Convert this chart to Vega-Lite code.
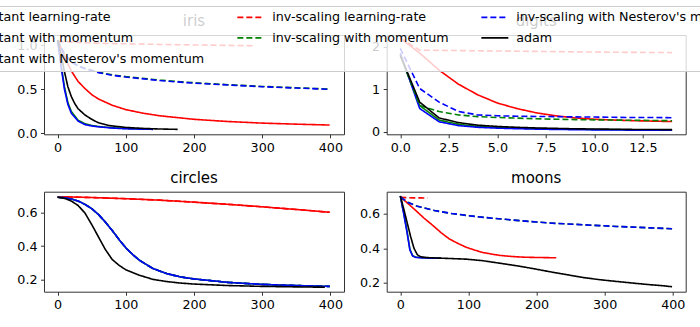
{
"$schema": "https://vega.github.io/schema/vega-lite/v6.json",
"autosize": {"type": "none"},
"padding": {"left": 44, "top": 35, "right": 656, "bottom": 292},
"config": {
  "font": "DejaVu Sans",
  "view": {"stroke": "#333", "strokeWidth": 1},
  "axis": {"domain": false, "grid": false, "labelFont": "DejaVu Sans", "labelFontSize": 12.7, "labelColor": "#000", "tickColor": "#333", "tickSize": 3.5, "tickWidth": 1, "labelPadding": 3.5, "labelFlush": false, "labelOverlap": false, "title": null},
  "title": {"fontSize": 15, "fontWeight": "normal", "font": "DejaVu Sans", "color": "#000", "offset": 6, "anchor": "middle"},
  "legend": {"orient": "none", "direction": "horizontal", "legendX": -114.5, "legendY": -29, "columns": 3, "symbolType": "M-2.7,0H2.7", "symbolSize": 100, "symbolOffset": 7.5, "symbolStrokeWidth": 1.6, "labelOffset": 15, "labelFontSize": 12.7, "labelFont": "DejaVu Sans", "labelColor": "#000", "labelLimit": 400, "rowPadding": 7, "columnPadding": 29, "padding": 4.5, "fillColor": "rgba(255,255,255,0.8)", "strokeColor": "#cccccc", "cornerRadius": 2.5, "gridAlign": "each"}
},
"datasets": {"loss": [
{"d":"iris","m":"constant learning-rate","x":0,"y":1.06},{"d":"iris","m":"constant learning-rate","x":5,"y":0.97},{"d":"iris","m":"constant learning-rate","x":10,"y":0.88},{"d":"iris","m":"constant learning-rate","x":15,"y":0.79},{"d":"iris","m":"constant learning-rate","x":20,"y":0.71},{"d":"iris","m":"constant learning-rate","x":30,"y":0.59},{"d":"iris","m":"constant learning-rate","x":40,"y":0.51},{"d":"iris","m":"constant learning-rate","x":50,"y":0.44},{"d":"iris","m":"constant learning-rate","x":60,"y":0.39},{"d":"iris","m":"constant learning-rate","x":80,"y":0.32},{"d":"iris","m":"constant learning-rate","x":100,"y":0.27},{"d":"iris","m":"constant learning-rate","x":125,"y":0.23},{"d":"iris","m":"constant learning-rate","x":150,"y":0.2},{"d":"iris","m":"constant learning-rate","x":175,"y":0.18},{"d":"iris","m":"constant learning-rate","x":200,"y":0.16},{"d":"iris","m":"constant learning-rate","x":250,"y":0.135},{"d":"iris","m":"constant learning-rate","x":300,"y":0.117},{"d":"iris","m":"constant learning-rate","x":350,"y":0.105},{"d":"iris","m":"constant learning-rate","x":399,"y":0.095},
{"d":"iris","m":"constant with momentum","x":0,"y":1.06},{"d":"iris","m":"constant with momentum","x":5,"y":0.78},{"d":"iris","m":"constant with momentum","x":10,"y":0.53},{"d":"iris","m":"constant with momentum","x":15,"y":0.35},{"d":"iris","m":"constant with momentum","x":20,"y":0.25},{"d":"iris","m":"constant with momentum","x":30,"y":0.15},{"d":"iris","m":"constant with momentum","x":40,"y":0.11},{"d":"iris","m":"constant with momentum","x":50,"y":0.09},{"d":"iris","m":"constant with momentum","x":60,"y":0.078},{"d":"iris","m":"constant with momentum","x":80,"y":0.064},{"d":"iris","m":"constant with momentum","x":100,"y":0.056},{"d":"iris","m":"constant with momentum","x":120,"y":0.051},{"d":"iris","m":"constant with momentum","x":140,"y":0.048},
{"d":"iris","m":"constant with Nesterov's momentum","x":0,"y":1.06},{"d":"iris","m":"constant with Nesterov's momentum","x":5,"y":0.76},{"d":"iris","m":"constant with Nesterov's momentum","x":10,"y":0.5},{"d":"iris","m":"constant with Nesterov's momentum","x":15,"y":0.33},{"d":"iris","m":"constant with Nesterov's momentum","x":20,"y":0.23},{"d":"iris","m":"constant with Nesterov's momentum","x":30,"y":0.14},{"d":"iris","m":"constant with Nesterov's momentum","x":40,"y":0.1},{"d":"iris","m":"constant with Nesterov's momentum","x":50,"y":0.085},{"d":"iris","m":"constant with Nesterov's momentum","x":60,"y":0.075},{"d":"iris","m":"constant with Nesterov's momentum","x":80,"y":0.061},{"d":"iris","m":"constant with Nesterov's momentum","x":100,"y":0.053},{"d":"iris","m":"constant with Nesterov's momentum","x":120,"y":0.049},{"d":"iris","m":"constant with Nesterov's momentum","x":140,"y":0.046},
{"d":"iris","m":"inv-scaling learning-rate","x":0,"y":1.045},{"d":"iris","m":"inv-scaling learning-rate","x":50,"y":1.025},{"d":"iris","m":"inv-scaling learning-rate","x":100,"y":1.017},{"d":"iris","m":"inv-scaling learning-rate","x":150,"y":1.01},{"d":"iris","m":"inv-scaling learning-rate","x":200,"y":1.004},{"d":"iris","m":"inv-scaling learning-rate","x":250,"y":0.999},{"d":"iris","m":"inv-scaling learning-rate","x":287,"y":0.995},
{"d":"iris","m":"inv-scaling with momentum","x":0,"y":1.06},{"d":"iris","m":"inv-scaling with momentum","x":5,"y":0.975},{"d":"iris","m":"inv-scaling with momentum","x":10,"y":0.905},{"d":"iris","m":"inv-scaling with momentum","x":20,"y":0.815},{"d":"iris","m":"inv-scaling with momentum","x":30,"y":0.77},{"d":"iris","m":"inv-scaling with momentum","x":40,"y":0.74},{"d":"iris","m":"inv-scaling with momentum","x":60,"y":0.695},{"d":"iris","m":"inv-scaling with momentum","x":80,"y":0.665},{"d":"iris","m":"inv-scaling with momentum","x":100,"y":0.645},{"d":"iris","m":"inv-scaling with momentum","x":150,"y":0.605},{"d":"iris","m":"inv-scaling with momentum","x":200,"y":0.575},{"d":"iris","m":"inv-scaling with momentum","x":250,"y":0.553},{"d":"iris","m":"inv-scaling with momentum","x":300,"y":0.533},{"d":"iris","m":"inv-scaling with momentum","x":350,"y":0.518},{"d":"iris","m":"inv-scaling with momentum","x":399,"y":0.503},
{"d":"iris","m":"inv-scaling with Nesterov's momentum","x":0,"y":1.06},{"d":"iris","m":"inv-scaling with Nesterov's momentum","x":5,"y":0.97},{"d":"iris","m":"inv-scaling with Nesterov's momentum","x":10,"y":0.9},{"d":"iris","m":"inv-scaling with Nesterov's momentum","x":20,"y":0.81},{"d":"iris","m":"inv-scaling with Nesterov's momentum","x":30,"y":0.765},{"d":"iris","m":"inv-scaling with Nesterov's momentum","x":40,"y":0.735},{"d":"iris","m":"inv-scaling with Nesterov's momentum","x":60,"y":0.69},{"d":"iris","m":"inv-scaling with Nesterov's momentum","x":80,"y":0.66},{"d":"iris","m":"inv-scaling with Nesterov's momentum","x":100,"y":0.64},{"d":"iris","m":"inv-scaling with Nesterov's momentum","x":150,"y":0.6},{"d":"iris","m":"inv-scaling with Nesterov's momentum","x":200,"y":0.57},{"d":"iris","m":"inv-scaling with Nesterov's momentum","x":250,"y":0.55},{"d":"iris","m":"inv-scaling with Nesterov's momentum","x":300,"y":0.53},{"d":"iris","m":"inv-scaling with Nesterov's momentum","x":350,"y":0.515},{"d":"iris","m":"inv-scaling with Nesterov's momentum","x":399,"y":0.5},
{"d":"iris","m":"adam","x":0,"y":1.06},{"d":"iris","m":"adam","x":5,"y":0.9},{"d":"iris","m":"adam","x":10,"y":0.7},{"d":"iris","m":"adam","x":15,"y":0.53},{"d":"iris","m":"adam","x":20,"y":0.42},{"d":"iris","m":"adam","x":25,"y":0.34},{"d":"iris","m":"adam","x":30,"y":0.28},{"d":"iris","m":"adam","x":40,"y":0.21},{"d":"iris","m":"adam","x":50,"y":0.16},{"d":"iris","m":"adam","x":60,"y":0.12},{"d":"iris","m":"adam","x":75,"y":0.09},{"d":"iris","m":"adam","x":100,"y":0.068},{"d":"iris","m":"adam","x":125,"y":0.057},{"d":"iris","m":"adam","x":150,"y":0.05},{"d":"iris","m":"adam","x":176,"y":0.046},

{"d":"digits","m":"constant learning-rate","x":0,"y":2.2},{"d":"digits","m":"constant learning-rate","x":1,"y":1.85},{"d":"digits","m":"constant learning-rate","x":2,"y":1.45},{"d":"digits","m":"constant learning-rate","x":3,"y":1.12},{"d":"digits","m":"constant learning-rate","x":4,"y":0.87},{"d":"digits","m":"constant learning-rate","x":5,"y":0.68},{"d":"digits","m":"constant learning-rate","x":6,"y":0.55},{"d":"digits","m":"constant learning-rate","x":7,"y":0.45},{"d":"digits","m":"constant learning-rate","x":8,"y":0.38},{"d":"digits","m":"constant learning-rate","x":9,"y":0.33},{"d":"digits","m":"constant learning-rate","x":10,"y":0.3},{"d":"digits","m":"constant learning-rate","x":11,"y":0.28},{"d":"digits","m":"constant learning-rate","x":12,"y":0.265},{"d":"digits","m":"constant learning-rate","x":13,"y":0.255},{"d":"digits","m":"constant learning-rate","x":14,"y":0.245},
{"d":"digits","m":"constant with momentum","x":0,"y":1.8},{"d":"digits","m":"constant with momentum","x":1,"y":0.62},{"d":"digits","m":"constant with momentum","x":2,"y":0.28},{"d":"digits","m":"constant with momentum","x":3,"y":0.18},{"d":"digits","m":"constant with momentum","x":4,"y":0.13},{"d":"digits","m":"constant with momentum","x":5,"y":0.105},{"d":"digits","m":"constant with momentum","x":6,"y":0.09},{"d":"digits","m":"constant with momentum","x":7,"y":0.08},{"d":"digits","m":"constant with momentum","x":8,"y":0.072},{"d":"digits","m":"constant with momentum","x":9,"y":0.066},{"d":"digits","m":"constant with momentum","x":10,"y":0.06},{"d":"digits","m":"constant with momentum","x":11,"y":0.056},{"d":"digits","m":"constant with momentum","x":12,"y":0.052},{"d":"digits","m":"constant with momentum","x":13,"y":0.049},{"d":"digits","m":"constant with momentum","x":14,"y":0.046},
{"d":"digits","m":"constant with Nesterov's momentum","x":0,"y":1.85},{"d":"digits","m":"constant with Nesterov's momentum","x":1,"y":0.55},{"d":"digits","m":"constant with Nesterov's momentum","x":2,"y":0.24},{"d":"digits","m":"constant with Nesterov's momentum","x":3,"y":0.15},{"d":"digits","m":"constant with Nesterov's momentum","x":4,"y":0.11},{"d":"digits","m":"constant with Nesterov's momentum","x":5,"y":0.09},{"d":"digits","m":"constant with Nesterov's momentum","x":6,"y":0.078},{"d":"digits","m":"constant with Nesterov's momentum","x":7,"y":0.068},{"d":"digits","m":"constant with Nesterov's momentum","x":8,"y":0.06},{"d":"digits","m":"constant with Nesterov's momentum","x":9,"y":0.055},{"d":"digits","m":"constant with Nesterov's momentum","x":10,"y":0.05},{"d":"digits","m":"constant with Nesterov's momentum","x":11,"y":0.047},{"d":"digits","m":"constant with Nesterov's momentum","x":12,"y":0.044},{"d":"digits","m":"constant with Nesterov's momentum","x":13,"y":0.042},{"d":"digits","m":"constant with Nesterov's momentum","x":14,"y":0.04},
{"d":"digits","m":"inv-scaling learning-rate","x":0,"y":2.2},{"d":"digits","m":"inv-scaling learning-rate","x":1,"y":1.92},{"d":"digits","m":"inv-scaling learning-rate","x":2,"y":1.915},{"d":"digits","m":"inv-scaling learning-rate","x":3,"y":1.91},{"d":"digits","m":"inv-scaling learning-rate","x":4,"y":1.905},{"d":"digits","m":"inv-scaling learning-rate","x":5,"y":1.9},{"d":"digits","m":"inv-scaling learning-rate","x":6,"y":1.895},{"d":"digits","m":"inv-scaling learning-rate","x":7,"y":1.89},{"d":"digits","m":"inv-scaling learning-rate","x":8,"y":1.885},{"d":"digits","m":"inv-scaling learning-rate","x":9,"y":1.88},{"d":"digits","m":"inv-scaling learning-rate","x":10,"y":1.875},{"d":"digits","m":"inv-scaling learning-rate","x":11,"y":1.87},{"d":"digits","m":"inv-scaling learning-rate","x":12,"y":1.868},{"d":"digits","m":"inv-scaling learning-rate","x":13,"y":1.865},{"d":"digits","m":"inv-scaling learning-rate","x":14,"y":1.862},
{"d":"digits","m":"inv-scaling with momentum","x":0,"y":1.8},{"d":"digits","m":"inv-scaling with momentum","x":1,"y":0.62},{"d":"digits","m":"inv-scaling with momentum","x":2,"y":0.48},{"d":"digits","m":"inv-scaling with momentum","x":3,"y":0.4},{"d":"digits","m":"inv-scaling with momentum","x":4,"y":0.36},{"d":"digits","m":"inv-scaling with momentum","x":5,"y":0.34},{"d":"digits","m":"inv-scaling with momentum","x":6,"y":0.325},{"d":"digits","m":"inv-scaling with momentum","x":7,"y":0.31},{"d":"digits","m":"inv-scaling with momentum","x":8,"y":0.3},{"d":"digits","m":"inv-scaling with momentum","x":9,"y":0.29},{"d":"digits","m":"inv-scaling with momentum","x":10,"y":0.285},{"d":"digits","m":"inv-scaling with momentum","x":11,"y":0.28},{"d":"digits","m":"inv-scaling with momentum","x":12,"y":0.275},{"d":"digits","m":"inv-scaling with momentum","x":13,"y":0.27},{"d":"digits","m":"inv-scaling with momentum","x":14,"y":0.265},
{"d":"digits","m":"inv-scaling with Nesterov's momentum","x":0,"y":1.96},{"d":"digits","m":"inv-scaling with Nesterov's momentum","x":1,"y":1.02},{"d":"digits","m":"inv-scaling with Nesterov's momentum","x":2,"y":0.7},{"d":"digits","m":"inv-scaling with Nesterov's momentum","x":3,"y":0.48},{"d":"digits","m":"inv-scaling with Nesterov's momentum","x":4,"y":0.4},{"d":"digits","m":"inv-scaling with Nesterov's momentum","x":5,"y":0.38},{"d":"digits","m":"inv-scaling with Nesterov's momentum","x":6,"y":0.37},{"d":"digits","m":"inv-scaling with Nesterov's momentum","x":7,"y":0.365},{"d":"digits","m":"inv-scaling with Nesterov's momentum","x":8,"y":0.36},{"d":"digits","m":"inv-scaling with Nesterov's momentum","x":9,"y":0.355},{"d":"digits","m":"inv-scaling with Nesterov's momentum","x":10,"y":0.35},{"d":"digits","m":"inv-scaling with Nesterov's momentum","x":11,"y":0.345},{"d":"digits","m":"inv-scaling with Nesterov's momentum","x":12,"y":0.34},{"d":"digits","m":"inv-scaling with Nesterov's momentum","x":13,"y":0.34},{"d":"digits","m":"inv-scaling with Nesterov's momentum","x":14,"y":0.335},
{"d":"digits","m":"adam","x":0,"y":1.8},{"d":"digits","m":"adam","x":1,"y":0.7},{"d":"digits","m":"adam","x":2,"y":0.33},{"d":"digits","m":"adam","x":3,"y":0.22},{"d":"digits","m":"adam","x":4,"y":0.16},{"d":"digits","m":"adam","x":5,"y":0.13},{"d":"digits","m":"adam","x":6,"y":0.11},{"d":"digits","m":"adam","x":7,"y":0.095},{"d":"digits","m":"adam","x":8,"y":0.085},{"d":"digits","m":"adam","x":9,"y":0.075},{"d":"digits","m":"adam","x":10,"y":0.07},{"d":"digits","m":"adam","x":11,"y":0.065},{"d":"digits","m":"adam","x":12,"y":0.06},{"d":"digits","m":"adam","x":13,"y":0.058},{"d":"digits","m":"adam","x":14,"y":0.055},

{"d":"circles","m":"constant learning-rate","x":0,"y":0.698},{"d":"circles","m":"constant learning-rate","x":50,"y":0.693},{"d":"circles","m":"constant learning-rate","x":100,"y":0.686},{"d":"circles","m":"constant learning-rate","x":150,"y":0.677},{"d":"circles","m":"constant learning-rate","x":200,"y":0.665},{"d":"circles","m":"constant learning-rate","x":250,"y":0.652},{"d":"circles","m":"constant learning-rate","x":300,"y":0.637},{"d":"circles","m":"constant learning-rate","x":350,"y":0.621},{"d":"circles","m":"constant learning-rate","x":399,"y":0.604},
{"d":"circles","m":"constant with momentum","x":0,"y":0.695},{"d":"circles","m":"constant with momentum","x":10,"y":0.692},{"d":"circles","m":"constant with momentum","x":20,"y":0.684},{"d":"circles","m":"constant with momentum","x":30,"y":0.672},{"d":"circles","m":"constant with momentum","x":40,"y":0.652},{"d":"circles","m":"constant with momentum","x":50,"y":0.626},{"d":"circles","m":"constant with momentum","x":60,"y":0.59},{"d":"circles","m":"constant with momentum","x":70,"y":0.545},{"d":"circles","m":"constant with momentum","x":80,"y":0.495},{"d":"circles","m":"constant with momentum","x":90,"y":0.44},{"d":"circles","m":"constant with momentum","x":100,"y":0.39},{"d":"circles","m":"constant with momentum","x":110,"y":0.35},{"d":"circles","m":"constant with momentum","x":120,"y":0.315},{"d":"circles","m":"constant with momentum","x":140,"y":0.265},{"d":"circles","m":"constant with momentum","x":160,"y":0.235},{"d":"circles","m":"constant with momentum","x":180,"y":0.215},{"d":"circles","m":"constant with momentum","x":200,"y":0.203},{"d":"circles","m":"constant with momentum","x":250,"y":0.182},{"d":"circles","m":"constant with momentum","x":300,"y":0.17},{"d":"circles","m":"constant with momentum","x":350,"y":0.163},{"d":"circles","m":"constant with momentum","x":399,"y":0.158},
{"d":"circles","m":"constant with Nesterov's momentum","x":0,"y":0.695},{"d":"circles","m":"constant with Nesterov's momentum","x":10,"y":0.692},{"d":"circles","m":"constant with Nesterov's momentum","x":20,"y":0.684},{"d":"circles","m":"constant with Nesterov's momentum","x":30,"y":0.672},{"d":"circles","m":"constant with Nesterov's momentum","x":40,"y":0.652},{"d":"circles","m":"constant with Nesterov's momentum","x":50,"y":0.626},{"d":"circles","m":"constant with Nesterov's momentum","x":60,"y":0.59},{"d":"circles","m":"constant with Nesterov's momentum","x":70,"y":0.545},{"d":"circles","m":"constant with Nesterov's momentum","x":80,"y":0.495},{"d":"circles","m":"constant with Nesterov's momentum","x":90,"y":0.44},{"d":"circles","m":"constant with Nesterov's momentum","x":100,"y":0.39},{"d":"circles","m":"constant with Nesterov's momentum","x":110,"y":0.35},{"d":"circles","m":"constant with Nesterov's momentum","x":120,"y":0.315},{"d":"circles","m":"constant with Nesterov's momentum","x":140,"y":0.265},{"d":"circles","m":"constant with Nesterov's momentum","x":160,"y":0.235},{"d":"circles","m":"constant with Nesterov's momentum","x":180,"y":0.215},{"d":"circles","m":"constant with Nesterov's momentum","x":200,"y":0.203},{"d":"circles","m":"constant with Nesterov's momentum","x":250,"y":0.182},{"d":"circles","m":"constant with Nesterov's momentum","x":300,"y":0.17},{"d":"circles","m":"constant with Nesterov's momentum","x":350,"y":0.163},{"d":"circles","m":"constant with Nesterov's momentum","x":399,"y":0.158},
{"d":"circles","m":"inv-scaling learning-rate","x":0,"y":0.698},{"d":"circles","m":"inv-scaling learning-rate","x":50,"y":0.693},{"d":"circles","m":"inv-scaling learning-rate","x":100,"y":0.686},{"d":"circles","m":"inv-scaling learning-rate","x":150,"y":0.677},{"d":"circles","m":"inv-scaling learning-rate","x":200,"y":0.665},{"d":"circles","m":"inv-scaling learning-rate","x":250,"y":0.652},{"d":"circles","m":"inv-scaling learning-rate","x":300,"y":0.637},{"d":"circles","m":"inv-scaling learning-rate","x":350,"y":0.621},{"d":"circles","m":"inv-scaling learning-rate","x":399,"y":0.604},
{"d":"circles","m":"inv-scaling with momentum","x":0,"y":0.695},{"d":"circles","m":"inv-scaling with momentum","x":10,"y":0.692},{"d":"circles","m":"inv-scaling with momentum","x":20,"y":0.684},{"d":"circles","m":"inv-scaling with momentum","x":30,"y":0.672},{"d":"circles","m":"inv-scaling with momentum","x":40,"y":0.652},{"d":"circles","m":"inv-scaling with momentum","x":50,"y":0.626},{"d":"circles","m":"inv-scaling with momentum","x":60,"y":0.59},{"d":"circles","m":"inv-scaling with momentum","x":70,"y":0.545},{"d":"circles","m":"inv-scaling with momentum","x":80,"y":0.495},{"d":"circles","m":"inv-scaling with momentum","x":90,"y":0.44},{"d":"circles","m":"inv-scaling with momentum","x":100,"y":0.39},{"d":"circles","m":"inv-scaling with momentum","x":110,"y":0.35},{"d":"circles","m":"inv-scaling with momentum","x":120,"y":0.315},{"d":"circles","m":"inv-scaling with momentum","x":140,"y":0.265},{"d":"circles","m":"inv-scaling with momentum","x":160,"y":0.235},{"d":"circles","m":"inv-scaling with momentum","x":180,"y":0.215},{"d":"circles","m":"inv-scaling with momentum","x":200,"y":0.203},{"d":"circles","m":"inv-scaling with momentum","x":250,"y":0.182},{"d":"circles","m":"inv-scaling with momentum","x":300,"y":0.17},{"d":"circles","m":"inv-scaling with momentum","x":350,"y":0.163},{"d":"circles","m":"inv-scaling with momentum","x":399,"y":0.158},
{"d":"circles","m":"inv-scaling with Nesterov's momentum","x":0,"y":0.695},{"d":"circles","m":"inv-scaling with Nesterov's momentum","x":10,"y":0.692},{"d":"circles","m":"inv-scaling with Nesterov's momentum","x":20,"y":0.684},{"d":"circles","m":"inv-scaling with Nesterov's momentum","x":30,"y":0.672},{"d":"circles","m":"inv-scaling with Nesterov's momentum","x":40,"y":0.652},{"d":"circles","m":"inv-scaling with Nesterov's momentum","x":50,"y":0.626},{"d":"circles","m":"inv-scaling with Nesterov's momentum","x":60,"y":0.59},{"d":"circles","m":"inv-scaling with Nesterov's momentum","x":70,"y":0.545},{"d":"circles","m":"inv-scaling with Nesterov's momentum","x":80,"y":0.495},{"d":"circles","m":"inv-scaling with Nesterov's momentum","x":90,"y":0.44},{"d":"circles","m":"inv-scaling with Nesterov's momentum","x":100,"y":0.39},{"d":"circles","m":"inv-scaling with Nesterov's momentum","x":110,"y":0.35},{"d":"circles","m":"inv-scaling with Nesterov's momentum","x":120,"y":0.315},{"d":"circles","m":"inv-scaling with Nesterov's momentum","x":140,"y":0.265},{"d":"circles","m":"inv-scaling with Nesterov's momentum","x":160,"y":0.235},{"d":"circles","m":"inv-scaling with Nesterov's momentum","x":180,"y":0.215},{"d":"circles","m":"inv-scaling with Nesterov's momentum","x":200,"y":0.203},{"d":"circles","m":"inv-scaling with Nesterov's momentum","x":250,"y":0.182},{"d":"circles","m":"inv-scaling with Nesterov's momentum","x":300,"y":0.17},{"d":"circles","m":"inv-scaling with Nesterov's momentum","x":350,"y":0.163},{"d":"circles","m":"inv-scaling with Nesterov's momentum","x":399,"y":0.158},
{"d":"circles","m":"adam","x":0,"y":0.695},{"d":"circles","m":"adam","x":10,"y":0.688},{"d":"circles","m":"adam","x":20,"y":0.672},{"d":"circles","m":"adam","x":30,"y":0.645},{"d":"circles","m":"adam","x":40,"y":0.6},{"d":"circles","m":"adam","x":50,"y":0.53},{"d":"circles","m":"adam","x":60,"y":0.455},{"d":"circles","m":"adam","x":70,"y":0.38},{"d":"circles","m":"adam","x":80,"y":0.32},{"d":"circles","m":"adam","x":90,"y":0.285},{"d":"circles","m":"adam","x":100,"y":0.258},{"d":"circles","m":"adam","x":120,"y":0.225},{"d":"circles","m":"adam","x":140,"y":0.2},{"d":"circles","m":"adam","x":160,"y":0.187},{"d":"circles","m":"adam","x":180,"y":0.178},{"d":"circles","m":"adam","x":200,"y":0.172},{"d":"circles","m":"adam","x":250,"y":0.163},{"d":"circles","m":"adam","x":300,"y":0.158},{"d":"circles","m":"adam","x":350,"y":0.155},{"d":"circles","m":"adam","x":392,"y":0.153},

{"d":"moons","m":"constant learning-rate","x":0,"y":0.7},{"d":"moons","m":"constant learning-rate","x":10,"y":0.665},{"d":"moons","m":"constant learning-rate","x":23,"y":0.619},{"d":"moons","m":"constant learning-rate","x":35,"y":0.575},{"d":"moons","m":"constant learning-rate","x":48,"y":0.532},{"d":"moons","m":"constant learning-rate","x":60,"y":0.49},{"d":"moons","m":"constant learning-rate","x":72,"y":0.454},{"d":"moons","m":"constant learning-rate","x":85,"y":0.427},{"d":"moons","m":"constant learning-rate","x":97,"y":0.405},{"d":"moons","m":"constant learning-rate","x":110,"y":0.388},{"d":"moons","m":"constant learning-rate","x":121,"y":0.375},{"d":"moons","m":"constant learning-rate","x":135,"y":0.365},{"d":"moons","m":"constant learning-rate","x":146,"y":0.358},{"d":"moons","m":"constant learning-rate","x":160,"y":0.353},{"d":"moons","m":"constant learning-rate","x":170,"y":0.35},{"d":"moons","m":"constant learning-rate","x":185,"y":0.347},{"d":"moons","m":"constant learning-rate","x":199,"y":0.346},{"d":"moons","m":"constant learning-rate","x":215,"y":0.345},{"d":"moons","m":"constant learning-rate","x":229,"y":0.344},
{"d":"moons","m":"constant with momentum","x":0,"y":0.705},{"d":"moons","m":"constant with momentum","x":5,"y":0.605},{"d":"moons","m":"constant with momentum","x":10,"y":0.495},{"d":"moons","m":"constant with momentum","x":14,"y":0.395},{"d":"moons","m":"constant with momentum","x":18,"y":0.357},{"d":"moons","m":"constant with momentum","x":22,"y":0.348},{"d":"moons","m":"constant with momentum","x":30,"y":0.345},{"d":"moons","m":"constant with momentum","x":45,"y":0.343},{"d":"moons","m":"constant with momentum","x":60,"y":0.342},
{"d":"moons","m":"constant with Nesterov's momentum","x":0,"y":0.705},{"d":"moons","m":"constant with Nesterov's momentum","x":5,"y":0.6},{"d":"moons","m":"constant with Nesterov's momentum","x":10,"y":0.49},{"d":"moons","m":"constant with Nesterov's momentum","x":14,"y":0.39},{"d":"moons","m":"constant with Nesterov's momentum","x":18,"y":0.355},{"d":"moons","m":"constant with Nesterov's momentum","x":22,"y":0.347},{"d":"moons","m":"constant with Nesterov's momentum","x":30,"y":0.344},{"d":"moons","m":"constant with Nesterov's momentum","x":45,"y":0.342},{"d":"moons","m":"constant with Nesterov's momentum","x":60,"y":0.341},
{"d":"moons","m":"inv-scaling learning-rate","x":0,"y":0.697},{"d":"moons","m":"inv-scaling learning-rate","x":10,"y":0.695},{"d":"moons","m":"inv-scaling learning-rate","x":20,"y":0.694},{"d":"moons","m":"inv-scaling learning-rate","x":30,"y":0.694},{"d":"moons","m":"inv-scaling learning-rate","x":40,"y":0.693},
{"d":"moons","m":"inv-scaling with momentum","x":0,"y":0.7},{"d":"moons","m":"inv-scaling with momentum","x":5,"y":0.685},{"d":"moons","m":"inv-scaling with momentum","x":10,"y":0.67},{"d":"moons","m":"inv-scaling with momentum","x":25,"y":0.645},{"d":"moons","m":"inv-scaling with momentum","x":50,"y":0.62},{"d":"moons","m":"inv-scaling with momentum","x":75,"y":0.603},{"d":"moons","m":"inv-scaling with momentum","x":100,"y":0.59},{"d":"moons","m":"inv-scaling with momentum","x":125,"y":0.579},{"d":"moons","m":"inv-scaling with momentum","x":150,"y":0.57},{"d":"moons","m":"inv-scaling with momentum","x":175,"y":0.561},{"d":"moons","m":"inv-scaling with momentum","x":200,"y":0.553},{"d":"moons","m":"inv-scaling with momentum","x":219,"y":0.547},{"d":"moons","m":"inv-scaling with momentum","x":244,"y":0.542},{"d":"moons","m":"inv-scaling with momentum","x":268,"y":0.537},{"d":"moons","m":"inv-scaling with momentum","x":293,"y":0.532},{"d":"moons","m":"inv-scaling with momentum","x":317,"y":0.527},{"d":"moons","m":"inv-scaling with momentum","x":342,"y":0.523},{"d":"moons","m":"inv-scaling with momentum","x":366,"y":0.519},{"d":"moons","m":"inv-scaling with momentum","x":399,"y":0.514},
{"d":"moons","m":"inv-scaling with Nesterov's momentum","x":0,"y":0.7},{"d":"moons","m":"inv-scaling with Nesterov's momentum","x":5,"y":0.685},{"d":"moons","m":"inv-scaling with Nesterov's momentum","x":10,"y":0.67},{"d":"moons","m":"inv-scaling with Nesterov's momentum","x":25,"y":0.645},{"d":"moons","m":"inv-scaling with Nesterov's momentum","x":50,"y":0.62},{"d":"moons","m":"inv-scaling with Nesterov's momentum","x":75,"y":0.603},{"d":"moons","m":"inv-scaling with Nesterov's momentum","x":100,"y":0.59},{"d":"moons","m":"inv-scaling with Nesterov's momentum","x":125,"y":0.579},{"d":"moons","m":"inv-scaling with Nesterov's momentum","x":150,"y":0.57},{"d":"moons","m":"inv-scaling with Nesterov's momentum","x":175,"y":0.561},{"d":"moons","m":"inv-scaling with Nesterov's momentum","x":200,"y":0.553},{"d":"moons","m":"inv-scaling with Nesterov's momentum","x":219,"y":0.547},{"d":"moons","m":"inv-scaling with Nesterov's momentum","x":244,"y":0.542},{"d":"moons","m":"inv-scaling with Nesterov's momentum","x":268,"y":0.537},{"d":"moons","m":"inv-scaling with Nesterov's momentum","x":293,"y":0.532},{"d":"moons","m":"inv-scaling with Nesterov's momentum","x":317,"y":0.527},{"d":"moons","m":"inv-scaling with Nesterov's momentum","x":342,"y":0.523},{"d":"moons","m":"inv-scaling with Nesterov's momentum","x":366,"y":0.519},{"d":"moons","m":"inv-scaling with Nesterov's momentum","x":399,"y":0.514},
{"d":"moons","m":"adam","x":0,"y":0.705},{"d":"moons","m":"adam","x":5,"y":0.63},{"d":"moons","m":"adam","x":10,"y":0.55},{"d":"moons","m":"adam","x":15,"y":0.47},{"d":"moons","m":"adam","x":20,"y":0.4},{"d":"moons","m":"adam","x":25,"y":0.362},{"d":"moons","m":"adam","x":30,"y":0.35},{"d":"moons","m":"adam","x":40,"y":0.345},{"d":"moons","m":"adam","x":50,"y":0.343},{"d":"moons","m":"adam","x":72,"y":0.34},{"d":"moons","m":"adam","x":97,"y":0.336},{"d":"moons","m":"adam","x":121,"y":0.327},{"d":"moons","m":"adam","x":145,"y":0.313},{"d":"moons","m":"adam","x":170,"y":0.298},{"d":"moons","m":"adam","x":195,"y":0.281},{"d":"moons","m":"adam","x":219,"y":0.263},{"d":"moons","m":"adam","x":245,"y":0.245},{"d":"moons","m":"adam","x":268,"y":0.229},{"d":"moons","m":"adam","x":293,"y":0.216},{"d":"moons","m":"adam","x":317,"y":0.206},{"d":"moons","m":"adam","x":342,"y":0.196},{"d":"moons","m":"adam","x":366,"y":0.187},{"d":"moons","m":"adam","x":385,"y":0.181},{"d":"moons","m":"adam","x":399,"y":0.175}
]},
"columns": 2,
"spacing": {"row": 56.7, "column": 42.7},
"bounds": "flush",
"resolve": {"scale": {"x": "independent", "y": "independent", "color": "shared", "strokeDash": "shared"}},
"concat": [
 {"title": "iris", "width": 300, "height": 99.3, "data": {"name": "loss"}, "transform": [{"filter": "datum.d === 'iris'"}],
  "mark": {"type": "line", "strokeWidth": 1.6},
  "encoding": {
   "x": {"field": "x", "type": "quantitative", "scale": {"domain": [-20, 420], "nice": false, "zero": false}, "axis": {"values": [0, 100, 200, 300, 400]}},
   "y": {"field": "y", "type": "quantitative", "scale": {"domain": [-0.01, 1.117], "nice": false, "zero": false}, "axis": {"values": [0, 0.5, 1], "format": ".1f"}},
   "color": {"field": "m", "type": "nominal", "legend": {"title": null}, "scale": {"domain": ["constant learning-rate", "inv-scaling learning-rate", "inv-scaling with Nesterov's momentum", "constant with momentum", "inv-scaling with momentum", "adam", "constant with Nesterov's momentum"], "range": ["#ff0000", "#ff0000", "#0000ff", "#008000", "#008000", "#000000", "#0000ff"]}},
   "strokeDash": {"field": "m", "type": "nominal", "legend": {"title": null}, "scale": {"domain": ["constant learning-rate", "inv-scaling learning-rate", "inv-scaling with Nesterov's momentum", "constant with momentum", "inv-scaling with momentum", "adam", "constant with Nesterov's momentum"], "range": [[1, 0], [6, 3], [6, 3], [1, 0], [6, 3], [1, 0], [1, 0]]}}
  }},
 {"title": "digits", "width": 299, "height": 99.3, "data": {"name": "loss"}, "transform": [{"filter": "datum.d === 'digits'"}],
  "mark": {"type": "line", "strokeWidth": 1.6},
  "encoding": {
   "x": {"field": "x", "type": "quantitative", "scale": {"domain": [-0.7, 14.7], "nice": false, "zero": false}, "axis": {"values": [0, 2.5, 5, 7.5, 10, 12.5], "format": ".1f"}},
   "y": {"field": "y", "type": "quantitative", "scale": {"domain": [-0.054, 2.275], "nice": false, "zero": false}, "axis": {"values": [0, 1, 2], "format": "d"}},
   "color": {"field": "m", "type": "nominal", "legend": {"title": null}, "scale": {"domain": ["constant learning-rate", "inv-scaling learning-rate", "inv-scaling with Nesterov's momentum", "constant with momentum", "inv-scaling with momentum", "adam", "constant with Nesterov's momentum"], "range": ["#ff0000", "#ff0000", "#0000ff", "#008000", "#008000", "#000000", "#0000ff"]}},
   "strokeDash": {"field": "m", "type": "nominal", "legend": {"title": null}, "scale": {"domain": ["constant learning-rate", "inv-scaling learning-rate", "inv-scaling with Nesterov's momentum", "constant with momentum", "inv-scaling with momentum", "adam", "constant with Nesterov's momentum"], "range": [[1, 0], [6, 3], [6, 3], [1, 0], [6, 3], [1, 0], [1, 0]]}}
  }},
 {"title": "circles", "width": 300, "height": 100, "data": {"name": "loss"}, "transform": [{"filter": "datum.d === 'circles'"}],
  "mark": {"type": "line", "strokeWidth": 1.6},
  "encoding": {
   "x": {"field": "x", "type": "quantitative", "scale": {"domain": [-20, 420], "nice": false, "zero": false}, "axis": {"values": [0, 100, 200, 300, 400]}},
   "y": {"field": "y", "type": "quantitative", "scale": {"domain": [0.126, 0.728], "nice": false, "zero": false}, "axis": {"values": [0.2, 0.4, 0.6], "format": ".1f"}},
   "color": {"field": "m", "type": "nominal", "legend": {"title": null}, "scale": {"domain": ["constant learning-rate", "inv-scaling learning-rate", "inv-scaling with Nesterov's momentum", "constant with momentum", "inv-scaling with momentum", "adam", "constant with Nesterov's momentum"], "range": ["#ff0000", "#ff0000", "#0000ff", "#008000", "#008000", "#000000", "#0000ff"]}},
   "strokeDash": {"field": "m", "type": "nominal", "legend": {"title": null}, "scale": {"domain": ["constant learning-rate", "inv-scaling learning-rate", "inv-scaling with Nesterov's momentum", "constant with momentum", "inv-scaling with momentum", "adam", "constant with Nesterov's momentum"], "range": [[1, 0], [6, 3], [6, 3], [1, 0], [6, 3], [1, 0], [1, 0]]}}
  }},
 {"title": "moons", "width": 299, "height": 100, "data": {"name": "loss"}, "transform": [{"filter": "datum.d === 'moons'"}],
  "mark": {"type": "line", "strokeWidth": 1.6},
  "encoding": {
   "x": {"field": "x", "type": "quantitative", "scale": {"domain": [-20, 419], "nice": false, "zero": false}, "axis": {"values": [0, 100, 200, 300, 400]}},
   "y": {"field": "y", "type": "quantitative", "scale": {"domain": [0.146, 0.73], "nice": false, "zero": false}, "axis": {"values": [0.2, 0.4, 0.6], "format": ".1f"}},
   "color": {"field": "m", "type": "nominal", "legend": {"title": null}, "scale": {"domain": ["constant learning-rate", "inv-scaling learning-rate", "inv-scaling with Nesterov's momentum", "constant with momentum", "inv-scaling with momentum", "adam", "constant with Nesterov's momentum"], "range": ["#ff0000", "#ff0000", "#0000ff", "#008000", "#008000", "#000000", "#0000ff"]}},
   "strokeDash": {"field": "m", "type": "nominal", "legend": {"title": null}, "scale": {"domain": ["constant learning-rate", "inv-scaling learning-rate", "inv-scaling with Nesterov's momentum", "constant with momentum", "inv-scaling with momentum", "adam", "constant with Nesterov's momentum"], "range": [[1, 0], [6, 3], [6, 3], [1, 0], [6, 3], [1, 0], [1, 0]]}}
  }}
]
}
